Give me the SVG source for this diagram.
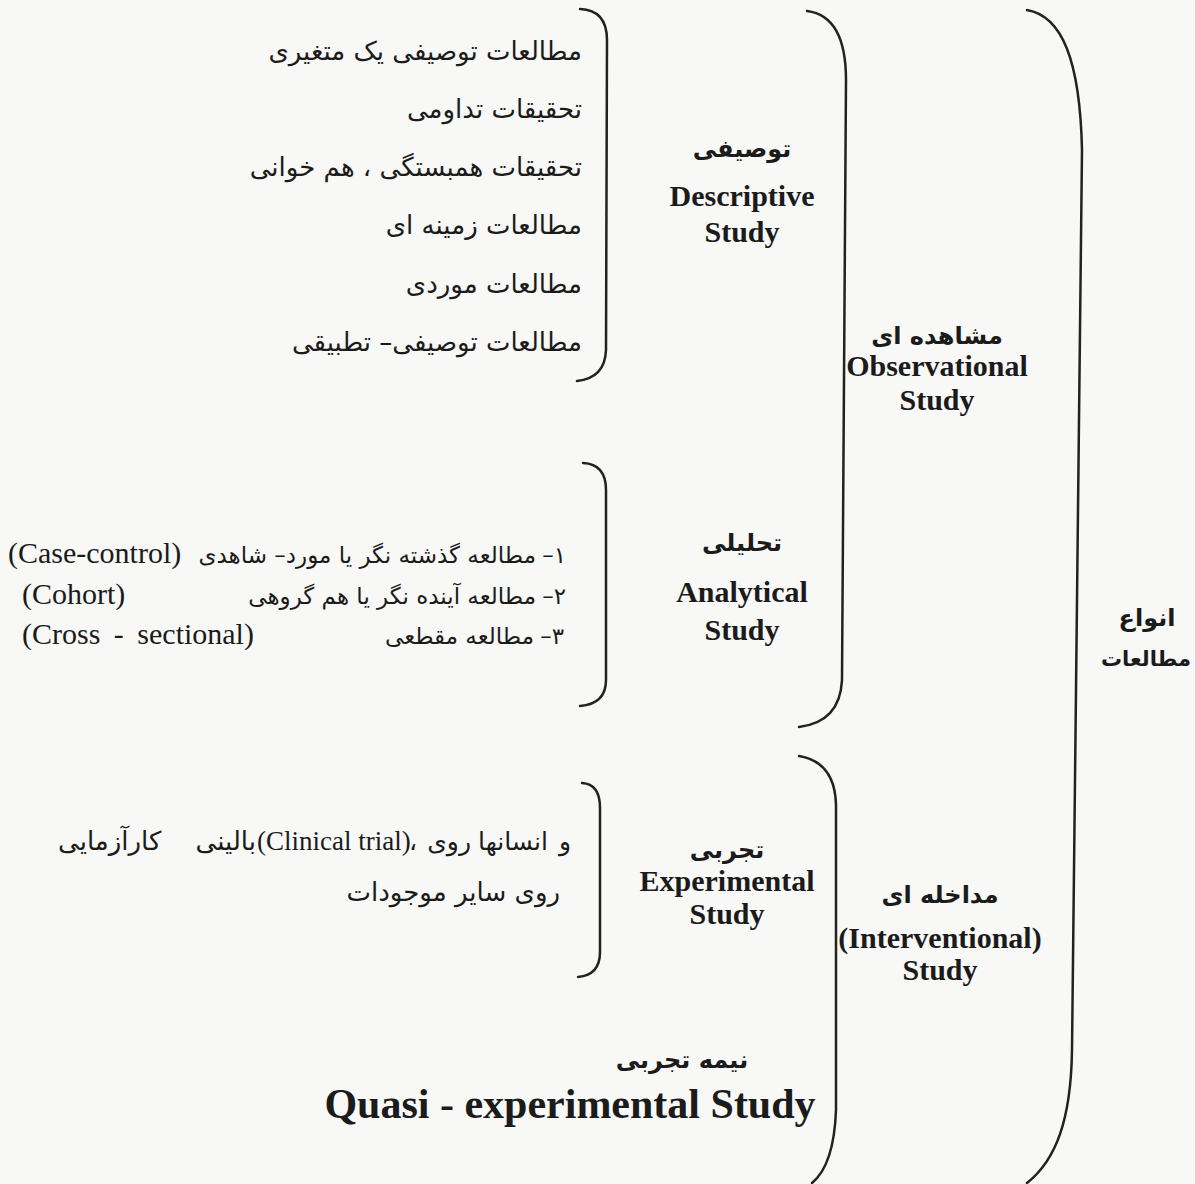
<svg xmlns="http://www.w3.org/2000/svg" width="1195" height="1184" viewBox="0 0 1195 1184">
<style>
.bg{fill:#f8f8f7}
.br{fill:none;stroke:#222;stroke-width:2.5;stroke-linecap:round}
.ar{font-family:"DejaVu Sans",sans-serif;font-size:26px;fill:#1b1b1b}
.ar2{font-family:"DejaVu Sans",sans-serif;font-size:23px;fill:#1b1b1b}
.arb{font-family:"DejaVu Sans",sans-serif;font-size:24px;font-weight:bold;fill:#1b1b1b}
.la{font-family:"Liberation Serif",serif;font-size:30px;fill:#1b1b1b}
.lb{font-family:"Liberation Serif",serif;font-size:30px;font-weight:bold;fill:#1b1b1b}
.c{text-anchor:middle}
.e{text-anchor:end}
</style>
<rect class="bg" x="0" y="0" width="1195" height="1184"/>
<g id="connectors">
<path class="br" d="M580,9 Q607,10 607,40 L606,350 Q605,378 577,381"/>
<path class="br" d="M807,11 Q846,16 846,80 L842,680 Q840,722 799,727"/>
<path class="br" d="M1027,10 C1062,16 1080,60 1082,150 L1072,1050 C1071,1120 1056,1160 1027,1183"/>
<path class="br" d="M583,463 Q606,464 606,490 L606,680 Q606,704 580,706"/>
<path class="br" d="M799,756 Q835,762 836,805 L836,1110 Q834,1165 812,1183"/>
<path class="br" d="M582,783 Q600,784 600,808 L600,952 Q600,975 578,977"/>
</g>
<g id="node-root">
<text class="arb c" x="1147" y="626">انواع</text>
<text class="arb c" x="1146" y="666" style="font-size:21px">مطالعات</text>
</g>
<g id="node-observational">
<text class="arb c" x="937" y="344">مشاهده ای</text>
<text class="lb c" x="937" y="376">Observational</text>
<text class="lb c" x="937" y="410">Study</text>
</g>
<g id="node-interventional">
<text class="arb c" x="940" y="903">مداخله ای</text>
<text class="lb c" x="940" y="948">(Interventional)</text>
<text class="lb c" x="940" y="980">Study</text>
</g>
<g id="node-descriptive">
<text class="arb c" x="742" y="157">توصیفی</text>
<text class="lb c" x="742" y="206">Descriptive</text>
<text class="lb c" x="742" y="242">Study</text>
</g>
<g id="node-descriptive-items">
<text class="ar e" x="582" y="60">مطالعات توصیفی یک متغیری</text>
<text class="ar e" x="582" y="118">تحقیقات تداومی</text>
<text class="ar e" x="582" y="176">تحقیقات همبستگی ، هم خوانی</text>
<text class="ar e" x="582" y="234">مطالعات زمینه ای</text>
<text class="ar e" x="582" y="293">مطالعات موردی</text>
<text class="ar e" x="582" y="351">مطالعات توصیفی– تطبیقی</text>
</g>
<g id="node-analytical">
<text class="arb c" x="742" y="551">تحلیلی</text>
<text class="lb c" x="742" y="602">Analytical</text>
<text class="lb c" x="742" y="640">Study</text>
</g>
<g id="node-analytical-items">
<text class="la" x="8" y="563">(Case-control)</text>
<text class="ar2 e" x="566" y="563">–۱</text>
<text class="ar2 e" x="536" y="563">مطالعه گذشته نگر یا مورد– شاهدی</text>
<text class="la" x="22" y="604">(Cohort)</text>
<text class="ar2 e" x="566" y="604">–۲</text>
<text class="ar2 e" x="536" y="604">مطالعه آینده نگر یا هم گروهی</text>
<text class="la" x="22" y="644" style="word-spacing:6px">(Cross - sectional)</text>
<text class="ar2 e" x="564" y="644">–۳</text>
<text class="ar2 e" x="534" y="644">مطالعه مقطعی</text>
</g>
<g id="node-experimental">
<text class="arb c" x="727" y="858">تجربی</text>
<text class="lb c" x="727" y="891">Experimental</text>
<text class="lb c" x="727" y="924">Study</text>
</g>
<g id="node-experimental-items">
<text class="ar" x="58" y="850">کارآزمایی</text>
<text class="ar e" x="256" y="850">بالینی</text>
<text class="la" x="257" y="850" style="font-size:27px">(Clinical trial)</text>
<text class="ar" x="409" y="850" style="font-size:25px">،</text>
<text class="ar e" x="471" y="850" style="font-size:25px">روی</text>
<text class="ar e" x="548" y="850" style="font-size:25px">انسانها</text>
<text class="ar e" x="571" y="850" style="font-size:25px">و</text>
<text class="ar e" x="560" y="901">روی سایر موجودات</text>
</g>
<g id="node-quasi">
<text class="arb c" x="682" y="1068">نیمه تجربی</text>
<text class="lb c" x="570" y="1118" style="font-size:42px">Quasi - experimental Study</text>
</g>
</svg>
